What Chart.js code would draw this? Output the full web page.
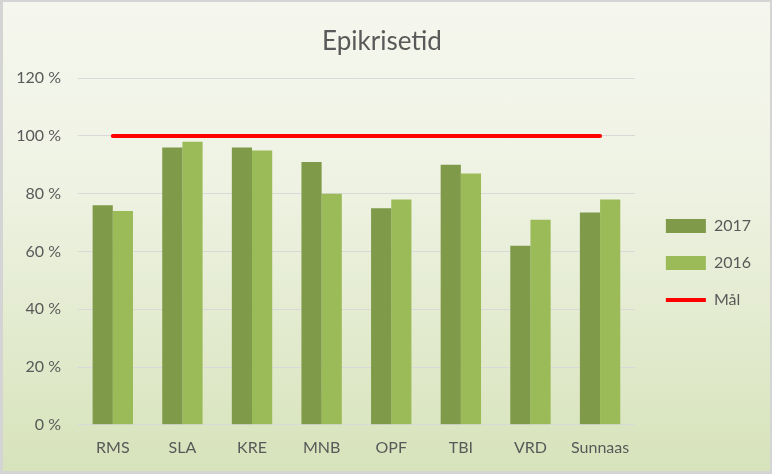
<!DOCTYPE html>
<html>
<head>
<meta charset="utf-8">
<script src="https://cdn.jsdelivr.net/npm/chart.js@4"></script>
<style>
    body { margin: 0; }
    #wrap {
        width: 772px;
        height: 474px;
        box-sizing: border-box;
        border-style: solid;
        border-color: #d4d4d4;
        border-width: 2px 2px 3px 3px;
        background: linear-gradient(#f5f7ee, #eef2e2 40%, #d7e3bb);
        position: relative;
    }
</style>
</head>
<body>
<div id="wrap"><canvas id="chartEpikrise"></canvas></div>
<script>
const categories = ['RMS', 'SLA', 'KRE', 'MNB', 'OPF', 'TBI', 'VRD', 'Sunnaas']
const values2017 = [76, 96, 96, 91, 75, 90, 62, 73.5]
const values2016 = [74, 98, 95, 80, 78, 87, 71, 78]
const goalValues = [100, 100, 100, 100, 100, 100, 100, 100]
const yTicks = [0, 20, 40, 60, 80, 100, 120]

const textColor = '#595959'

new Chart(document.getElementById('chartEpikrise'), {
    type: 'bar',
    data: {
        labels: categories,
        datasets: [{
            label: '2017',
            data: values2017,
            backgroundColor: '#7f9a48',
            pointStyle: 'rect',
            borderWidth: 0,
            order: 1
        }, {
            label: '2016',
            data: values2016,
            backgroundColor: '#9bbb59',
            pointStyle: 'rect',
            borderWidth: 0,
            order: 1
        }, {
            type: 'line',
            label: 'Mål',
            data: goalValues,
            borderColor: '#ff0000',
            backgroundColor: '#ff0000',
            borderWidth: 4,
            borderCapStyle: 'round',
            pointRadius: 0,
            pointStyle: 'line',
            order: 0
        }]
    },
    options: {
        responsive: true,
        maintainAspectRatio: false,
        animation: false,
        layout: {
            padding: { left: 0, right: 9, top: 10, bottom: 9 }
        },
        datasets: {
            bar: {
                categoryPercentage: 0.58,
                barPercentage: 1
            }
        },
        plugins: {
            title: {
                display: true,
                text: 'Epikrisetid',
                color: textColor,
                font: { family: 'Lato', size: 26, weight: 'normal' },
                padding: { top: 14, bottom: 21 }
            },
            legend: {
                position: 'right',
                title: {
                    display: true,
                    text: ' ',
                    font: { size: 15 },
                    padding: { top: 34, bottom: 0 }
                },
                labels: {
                    usePointStyle: true,
                    pointStyleWidth: 40,
                    boxHeight: 14,
                    padding: 21,
                    color: textColor,
                    font: { family: 'Lato', size: 16 },
                    sort: (a, b) => a.datasetIndex - b.datasetIndex
                }
            },
            tooltip: { enabled: false }
        },
        scales: {
            x: {
                grid: { display: false },
                border: { display: false },
                ticks: {
                    color: textColor,
                    font: { family: 'Lato', size: 16 },
                    padding: 5
                }
            },
            y: {
                min: 0,
                max: 120,
                afterBuildTicks: axis => {
                    axis.ticks = yTicks.map(v => ({ value: v }))
                },
                afterFit: axis => { axis.width = 75 },
                grid: { color: '#d9d9d9', drawTicks: false },
                border: { display: false },
                ticks: {
                    color: textColor,
                    font: { family: 'Lato', size: 16 },
                    padding: 17,
                    callback: v => v + ' %'
                }
            },
            gap: {
                position: 'right',
                min: 0,
                max: 1,
                grid: { display: false },
                border: { display: false },
                ticks: { display: false },
                afterFit: axis => { axis.width = 10 }
            }
        }
    }
})
</script>
</body>
</html>
